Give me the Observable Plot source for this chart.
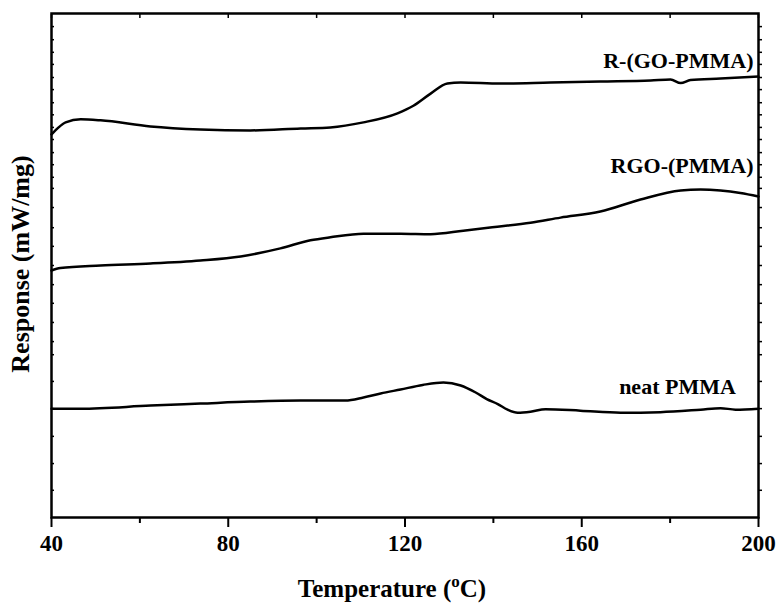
<!DOCTYPE html>
<html>
<head>
<meta charset="utf-8">
<script src="https://cdn.jsdelivr.net/npm/d3@7"></script>
<script src="https://cdn.jsdelivr.net/npm/@observablehq/plot@0.6"></script>
<style>
  body { margin: 0; background: #fff; }
  svg { display: block; }
</style>
</head>
<body>
<div id="chart"></div>
<script>
// Temperature (°C) samples and responses (arbitrary stacked units)
const rgoPmmaT = [40, 41.6, 43.2, 46.6, 51.1, 62.4, 73.7, 85.0, 96.4, 103.1, 110.6, 118.3, 121.9, 125.8, 129.6, 132.6, 141.6, 152.9, 164.2, 175.6, 180.1, 182.4, 184.6, 191.4, 200];
const rgoPmmaY = [76.0, 77.4, 78.4, 79.0, 78.8, 77.6, 77.0, 76.8, 77.2, 77.4, 78.4, 80.2, 81.7, 84.1, 86.1, 86.3, 86.1, 86.3, 86.5, 86.7, 86.9, 86.2, 86.8, 87.1, 87.5];

const rgoT = [40, 42.0, 51.1, 62.4, 73.7, 82.8, 91.8, 98.6, 103.1, 110.6, 119.0, 125.8, 133.2, 140.9, 148.4, 155.2, 164.2, 173.3, 182.4, 186.9, 191.4, 195.9, 200];
const rgoY = [49.0, 49.5, 50.0, 50.4, 51.0, 51.8, 53.4, 55.0, 55.6, 56.3, 56.3, 56.2, 56.9, 57.7, 58.5, 59.5, 60.7, 63.1, 64.9, 65.1, 64.9, 64.4, 63.7];

const neatT = [40, 46.6, 62.4, 73.7, 85.0, 96.4, 106.5, 110.6, 114.5, 119.0, 124.0, 128.7, 132.6, 136.0, 138.5, 141.0, 143.2, 145.5, 148.4, 151.8, 159.7, 168.8, 177.8, 186.9, 191.4, 194.8, 200];
const neatY = [21.6, 21.6, 22.2, 22.6, 23.0, 23.2, 23.2, 23.8, 24.6, 25.4, 26.3, 26.8, 26.2, 24.8, 23.5, 22.5, 21.4, 20.8, 21.0, 21.5, 21.2, 20.8, 20.9, 21.4, 21.7, 21.4, 21.6];

const seriesNames = ["R-(GO-PMMA)", "RGO-(PMMA)", "neat PMMA"];
const labelX = [200, 200, 196];
const labelY = [90.6, 69.8, 25.9];

const xMajorTicks = [40, 80, 120, 160, 200];
const xMinorTicks = [60, 100, 140, 180];
const xAllTicks = [40, 60, 80, 100, 120, 140, 160, 180, 200];
const yTicks = [5.4, 10.7, 16.1, 21.6, 27.0, 32.3, 34.9, 38.7, 42.5, 46.2, 50.0, 53.8, 57.5, 61.5, 65.3, 67.5, 70.0, 72.4, 75.0, 77.4, 79.9, 82.3, 84.9, 87.3, 89.9, 92.3, 94.8, 97.4];

const toRows = (ts, ys, name) => ts.map((t, i) => ({t, v: ys[i], name}));
const data = [
  ...toRows(rgoPmmaT, rgoPmmaY, seriesNames[0]),
  ...toRows(rgoT, rgoY, seriesNames[1]),
  ...toRows(neatT, neatY, seriesNames[2])
];
const labels = seriesNames.map((n, i) => ({n, x: labelX[i], y: labelY[i]}));

const font = "'Liberation Serif', 'Times New Roman', serif";

const chart = Plot.plot({
  width: 777,
  height: 605,
  marginLeft: 51,
  marginRight: 19,
  marginTop: 13,
  marginBottom: 88,
  style: {fontFamily: font, fontWeight: "bold", color: "#000", background: "#fff"},
  x: {domain: [40, 200]},
  y: {domain: [0, 100]},
  marks: [
    Plot.axisX(xMajorTicks, {anchor: "bottom", tickSize: 10, tickPadding: 7, fontSize: 23, label: null, strokeWidth: 2}),
    Plot.axisX(xMinorTicks, {anchor: "bottom", tickSize: 6, text: null, label: null, strokeWidth: 2}),
    Plot.axisX(xAllTicks, {anchor: "top", tickSize: -4, text: null, label: null, strokeWidth: 1.5}),
    Plot.axisY(yTicks, {anchor: "left", tickSize: -3, text: null, label: null, strokeWidth: 1.5}),
    Plot.axisY(yTicks, {anchor: "right", tickSize: 3, text: null, label: null, strokeWidth: 1.5}),
    Plot.line(data, {x: "t", y: "v", z: "name", stroke: "#000", strokeWidth: 2.5, curve: "monotone-x"}),
    Plot.text(labels, {x: "x", y: "y", text: "n", textAnchor: "end", dx: -5, fontSize: 22, fill: "#000"}),
    Plot.frame({stroke: "#000", strokeWidth: 2.5})
  ]
});

const svg = d3.select(chart);
const xl = svg.append("text")
  .attr("x", 392).attr("y", 597)
  .attr("text-anchor", "middle")
  .attr("font-family", font).attr("font-weight", "bold").attr("font-size", 25)
  .attr("fill", "#000");
xl.append("tspan").text("Temperature (");
xl.append("tspan").attr("dy", -10).attr("font-size", 17).text("o");
xl.append("tspan").attr("dy", 10).text("C)");

svg.append("text")
  .attr("transform", "translate(29,264) rotate(-90)")
  .attr("text-anchor", "middle")
  .attr("font-family", font).attr("font-weight", "bold").attr("font-size", 26)
  .attr("fill", "#000")
  .text("Response (mW/mg)");

document.getElementById("chart").appendChild(chart);
</script>
</body>
</html>
